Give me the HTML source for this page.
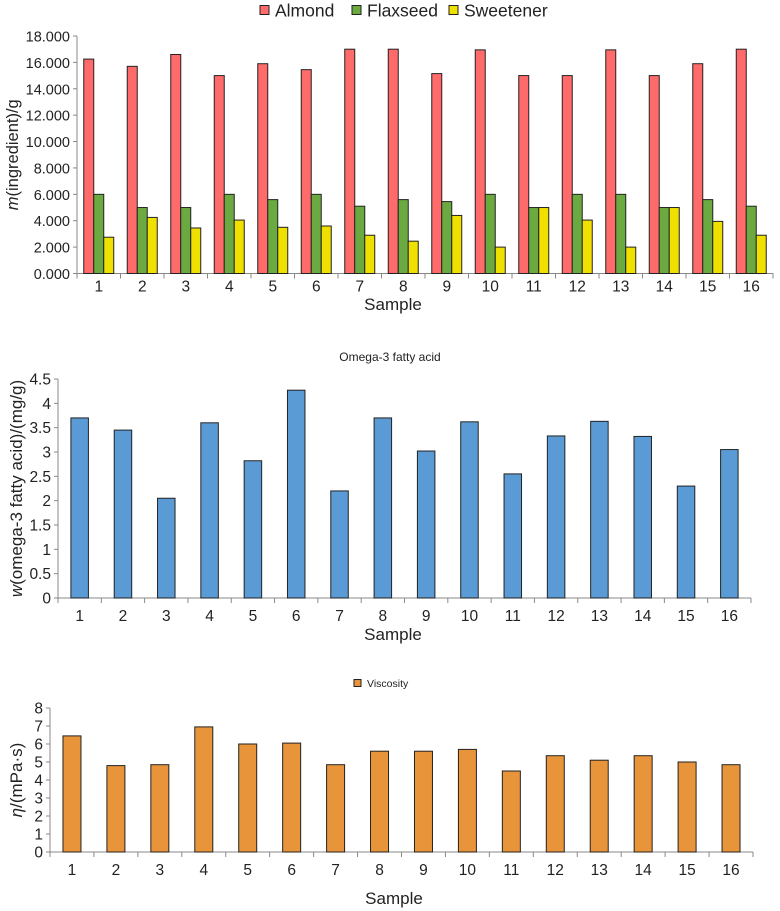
<!DOCTYPE html>
<html><head><meta charset="utf-8"><style>
html,body{margin:0;padding:0;background:#fff}
svg{display:block;font-family:"Liberation Sans",Arial,sans-serif}
</style></head><body>
<svg id="s" width="780" height="911" viewBox="0 0 780 911"></svg>
<script>
const samples=["1","2","3","4","5","6","7","8","9","10","11","12","13","14","15","16"];
const almond=[16.25,15.7,16.6,15,15.9,15.45,17,17,15.15,16.95,15,15,16.95,15,15.9,17];
const flaxseed=[6,5,5,6,5.6,6,5.1,5.6,5.45,6,5,6,6,5,5.6,5.1];
const sweetener=[2.75,4.25,3.45,4.05,3.5,3.6,2.9,2.45,4.4,2.0,5,4.05,2.0,5,3.95,2.9];
const omega=[3.7,3.45,2.05,3.6,2.82,4.27,2.2,3.7,3.02,3.62,2.55,3.33,3.63,3.32,2.3,3.05];
const viscosity=[6.45,4.8,4.85,6.95,6,6.05,4.85,5.6,5.6,5.7,4.5,5.35,5.1,5.35,5,4.85];
const ticks1=["0.000","2.000","4.000","6.000","8.000","10.000","12.000","14.000","16.000","18.000"];
const ticks2=["0","0.5","1","1.5","2","2.5","3","3.5","4","4.5"];
const ticks3=["0","1","2","3","4","5","6","7","8"];

const svg=document.getElementById('s');
const NS='http://www.w3.org/2000/svg';
function mk(tag,attrs,parent){const e=document.createElementNS(NS,tag);for(const k in attrs)e.setAttribute(k,attrs[k]);(parent||svg).appendChild(e);return e;}
function txt(s,attrs,parent){const e=mk('text',attrs,parent);e.textContent=s;return e;}

function chart(cfg){
  const g=mk('g',{});
  
  
  const x0=cfg.x0,x1=cfg.x1,yTop=cfg.yTop,yBot=cfg.yBot,max=cfg.max;
  const step=(x1-x0)/samples.length;
  const y=v=>yBot-(v/max)*(yBot-yTop);
  const ya=mk('line',{x1:x0,y1:yTop,x2:x0,y2:yBot,stroke:'#888','stroke-width':1},g);
  
  cfg.ticks.forEach(t=>{
    const v=parseFloat(t),yy=y(v);
    mk('line',{x1:x0-4,y1:yy,x2:x0,y2:yy,stroke:'#888'},g);
    const l=txt(t,{x:x0-7,y:yy+5.5,'text-anchor':'end','font-size':cfg.yfs||cfg.fs,fill:'#222'},g);
    
  });
  const xa=mk('line',{x1:x0,y1:yBot,x2:x1,y2:yBot,stroke:'#888'},g);
  
  for(let i=0;i<=samples.length;i++){const xx=x0+i*step;mk('line',{x1:xx,y1:yBot,x2:xx,y2:yBot+5,stroke:'#888'},g);}
  samples.forEach((s,i)=>{
    const l=txt(s,{x:x0+(i+0.5)*step,y:yBot+cfg.labOff,'text-anchor':'middle','font-size':cfg.fs,fill:'#222'},g);
    
  });
  const n=cfg.series.length;
  samples.forEach((s,i)=>{
    const c=x0+(i+0.5)*step;
    cfg.series.forEach((ser,k)=>{
      const left=c-n*cfg.bw/2+k*cfg.bw;
      const yy=y(ser.data[i]);
      const r=mk('rect',{x:left,y:yy,width:cfg.bw,height:yBot-yy,fill:ser.color,stroke:'#222','stroke-width':1},g);
      
      
    });
  });
  const xt=txt('Sample',{x:cfg.xtX,y:cfg.xtY,'text-anchor':'middle','font-size':17,fill:'#222'},g);
  
  const yt=mk('text',{transform:`translate(${cfg.ytX},${(yTop+yBot)/2}) rotate(-90)`,'text-anchor':'middle','font-size':cfg.ytFs,fill:'#222'},g);
  yt.innerHTML=cfg.ytHTML;
  
  return g;
}

chart({name:'ingredient-chart',x0:77,x1:773,yTop:36,yBot:273.5,max:18,ticks:ticks1,fs:15.5,yfs:14.5,labOff:18,bw:10,
  series:[{key:'almond',data:almond,color:'#ff6b6b'},{key:'flaxseed',data:flaxseed,color:'#6aaa40'},{key:'sweetener',data:sweetener,color:'#f0e000'}],
  xtX:393,xtY:310,ytX:18,ytFs:16.5,ytHTML:'<tspan font-style="italic">m</tspan>(ingredient)/g'});
chart({name:'omega3-chart',x0:58,x1:751,yTop:379,yBot:598,max:4.5,ticks:ticks2,fs:15.5,labOff:23,bw:17.5,
  series:[{key:'omega3',data:omega,color:'#5b9bd5'}],
  xtX:393,xtY:640,ytX:22,ytFs:17,ytHTML:'<tspan font-style="italic">w</tspan>(omega-3 fatty acid)/(mg/g)'});
chart({name:'viscosity-chart',x0:50,x1:753,yTop:708,yBot:852,max:8,ticks:ticks3,fs:15.5,labOff:23,bw:18,
  series:[{key:'viscosity',data:viscosity,color:'#e8943a'}],
  xtX:394,xtY:904,ytX:22,ytFs:17,ytHTML:'<tspan font-style="italic">η</tspan>/(mPa·s)'});

function legItem(x,y,color,label,fs,bs,name){
  const g=mk('g',{});
  
  mk('rect',{x:x,y:y-bs/2,width:bs,height:bs,fill:color,stroke:'#222'},g);
  txt(label,{x:x+bs+6,y:y+fs*0.36,'font-size':fs,fill:'#222'},g);
}
legItem(260,10,'#ff6b6b','Almond',17.5,9,'legend-entry-almond');
legItem(352,10,'#6aaa40','Flaxseed',17.5,9,'legend-entry-flaxseed');
legItem(449,10,'#f0e000','Sweetener',17.5,9,'legend-entry-sweetener');
const t2=txt('Omega-3 fatty acid',{x:390,y:361,'text-anchor':'middle','font-size':12,fill:'#222'});

legItem(354,683,'#e8943a','Viscosity',10.5,7,'legend-entry-viscosity');
</script>
</body></html>
